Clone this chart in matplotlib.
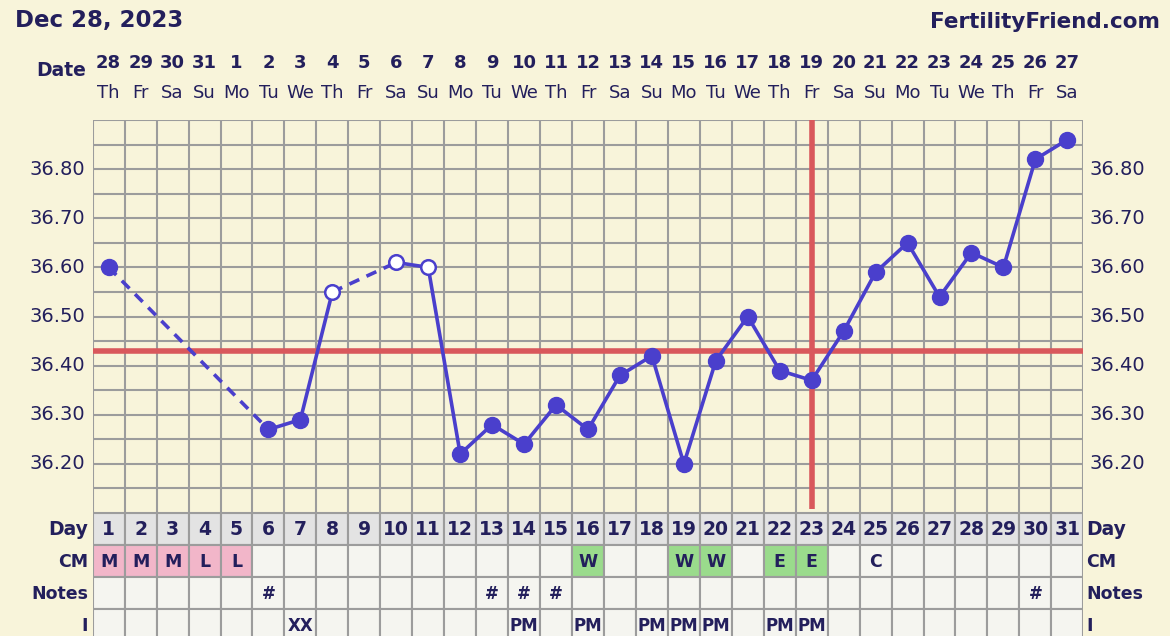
import matplotlib
matplotlib.use("Agg")
import matplotlib.pyplot as plt
from matplotlib.patches import Rectangle
import numpy as np

# ---------------- data ----------------
title_left = "Dec 28, 2023"
title_right = "FertilityFriend.com"
dates = ["28", "29", "30", "31", "1", "2", "3", "4", "5", "6", "7", "8", "9", "10", "11", "12",
         "13", "14", "15", "16", "17", "18", "19", "20", "21", "22", "23", "24", "25", "26", "27"]
weekdays = ["Th", "Fr", "Sa", "Su", "Mo", "Tu", "We", "Th", "Fr", "Sa", "Su", "Mo", "Tu", "We", "Th", "Fr",
            "Sa", "Su", "Mo", "Tu", "We", "Th", "Fr", "Sa", "Su", "Mo", "Tu", "We", "Th", "Fr", "Sa"]
days = list(range(1, 32))
temps = [36.60, None, None, None, None, 36.27, 36.29, 36.55, None, 36.61, 36.60, 36.22,
         36.28, 36.24, 36.32, 36.27, 36.38, 36.42, 36.20, 36.41, 36.50, 36.39, 36.37, 36.47,
         36.59, 36.65, 36.54, 36.63, 36.60, 36.82, 36.86]
open_days = [8, 10, 11]
coverline = 36.43
ovulation_day = 23
ytick_vals = [36.20, 36.30, 36.40, 36.50, 36.60, 36.70, 36.80]
cm = {1: "M", 2: "M", 3: "M", 4: "L", 5: "L", 16: "W", 19: "W", 20: "W", 22: "E", 23: "E", 25: "C"}
cm_colors = {"M": "#F2B6C9", "L": "#F2B6C9", "W": "#9ADB8C", "E": "#9ADB8C"}
notes = {6: "#", 13: "#", 14: "#", 15: "#", 30: "#"}
intercourse = {7: "XX", 14: "PM", 16: "PM", 18: "PM", 19: "PM", 20: "PM", 22: "PM", 23: "PM"}
row_labels = ["Day", "CM", "Notes", "I"]

# ---------------- style ----------------
BG = "#F8F4DA"
NAVY = "#231F5C"
LINE = "#4A3FCC"
RED = "#D9585C"
GRID = "#9C9C9C"
CELL = "#F5F5F0"
DAYCELL = "#E3E3E3"

W, H = 1170, 636
fig = plt.figure(figsize=(W / 100, H / 100), dpi=100, facecolor=BG)

def fx(px):
    return px / W

def fy(py):
    return 1 - py / H

left_px, right_px = 92.7, 1083.3
top_px, bot_px = 120, 513
ax = fig.add_axes([fx(left_px), fy(bot_px), fx(right_px - left_px), (bot_px - top_px) / H])
ax.set_facecolor(BG)
ax.set_xlim(0.5, 31.5)
ax.set_ylim(36.10, 36.90)

# grid
for xv in np.arange(0.5, 31.6, 1):
    ax.axvline(xv, color=GRID, lw=1.5, zorder=1)
for yv in np.arange(36.10, 36.91, 0.05):
    ax.axhline(yv, color=GRID, lw=1.5, zorder=1)
for s in ax.spines.values():
    s.set_visible(False)
ax.set_xticks([])
ax.set_yticks([])

# coverline and ovulation line
ax.axhline(coverline, color=RED, lw=4, zorder=2)
ax.plot([ovulation_day, ovulation_day], [36.108, 36.90], color=RED, lw=4, zorder=2,
        solid_capstyle="butt")

# temperature line
pts = [(d, t) for d, t in zip(days, temps) if t is not None]
for (d0, t0), (d1, t1) in zip(pts[:-1], pts[1:]):
    ls = "-" if d1 - d0 == 1 else (0, (3, 2.2))
    ax.plot([d0, d1], [t0, t1], color=LINE, lw=2.6, ls=ls, zorder=3, solid_capstyle="round")
for d, t in pts:
    if d in open_days:
        ax.plot(d, t, "o", ms=10.5, mfc="white", mec=LINE, mew=1.8, zorder=4)
    else:
        ax.plot(d, t, "o", ms=11.5, mfc=LINE, mec=LINE, zorder=4)

# y labels both sides
for yv in ytick_vals:
    ax.text(-0.0075, yv, f"{yv:.2f}", transform=ax.get_yaxis_transform(), ha="right", va="center",
            fontsize=14, color=NAVY)
    ax.text(1.0065, yv, f"{yv:.2f}", transform=ax.get_yaxis_transform(), ha="left", va="center",
            fontsize=14, color=NAVY)

# header
fig.text(fx(15), fy(21), title_left, ha="left", va="center", fontsize=16.5, fontweight="bold", color=NAVY)
fig.text(fx(1160), fy(22), title_right, ha="right", va="center", fontsize=15.5, fontweight="bold", color=NAVY)
fig.text(fx(86), fy(71), "Date", ha="right", va="center", fontsize=13.5, fontweight="bold", color=NAVY)
for d, ds, wd in zip(days, dates, weekdays):
    xp = left_px + (d - 0.5) * (right_px - left_px) / 31
    fig.text(fx(xp), fy(63), ds, ha="center", va="center", fontsize=13, fontweight="bold", color=NAVY)
    fig.text(fx(xp), fy(93), wd, ha="center", va="center", fontsize=13, color=NAVY)

# table
row_h = 32
tab = fig.add_axes([fx(left_px), fy(bot_px + 4 * row_h), fx(right_px - left_px), 4 * row_h / H])
tab.set_xlim(0.5, 31.5)
tab.set_ylim(4, 0)
tab.axis("off")
tab.patch.set_visible(False)
for d in days:
    for r in range(4):
        fc = DAYCELL if r == 0 else CELL
        if r == 1 and d in cm and cm[d] in cm_colors:
            fc = cm_colors[cm[d]]
        tab.add_patch(Rectangle((d - 0.5, r), 1, 1, facecolor=fc, edgecolor=GRID, lw=1.5, zorder=1))
    tab.text(d, 0.52, str(d), ha="center", va="center", fontsize=13.5, fontweight="bold", color=NAVY)
    if d in cm:
        tab.text(d, 1.52, cm[d], ha="center", va="center", fontsize=12.5, fontweight="bold", color=NAVY)
    if d in notes:
        tab.text(d, 2.52, notes[d], ha="center", va="center", fontsize=12, fontweight="bold", color=NAVY)
    if d in intercourse:
        tab.text(d, 3.52, intercourse[d], ha="center", va="center", fontsize=12, fontweight="bold",
                 color=NAVY)
for r, lab in enumerate(row_labels):
    fs = 13.5 if r == 0 else 12.5
    tab.text(0.35, r + 0.52, lab, ha="right", va="center", fontsize=fs,
             fontweight="bold", color=NAVY)
    tab.text(31.6, r + 0.52, lab, ha="left", va="center", fontsize=fs, fontweight="bold", color=NAVY)

fig.savefig("out.png", dpi=100, facecolor=BG)
